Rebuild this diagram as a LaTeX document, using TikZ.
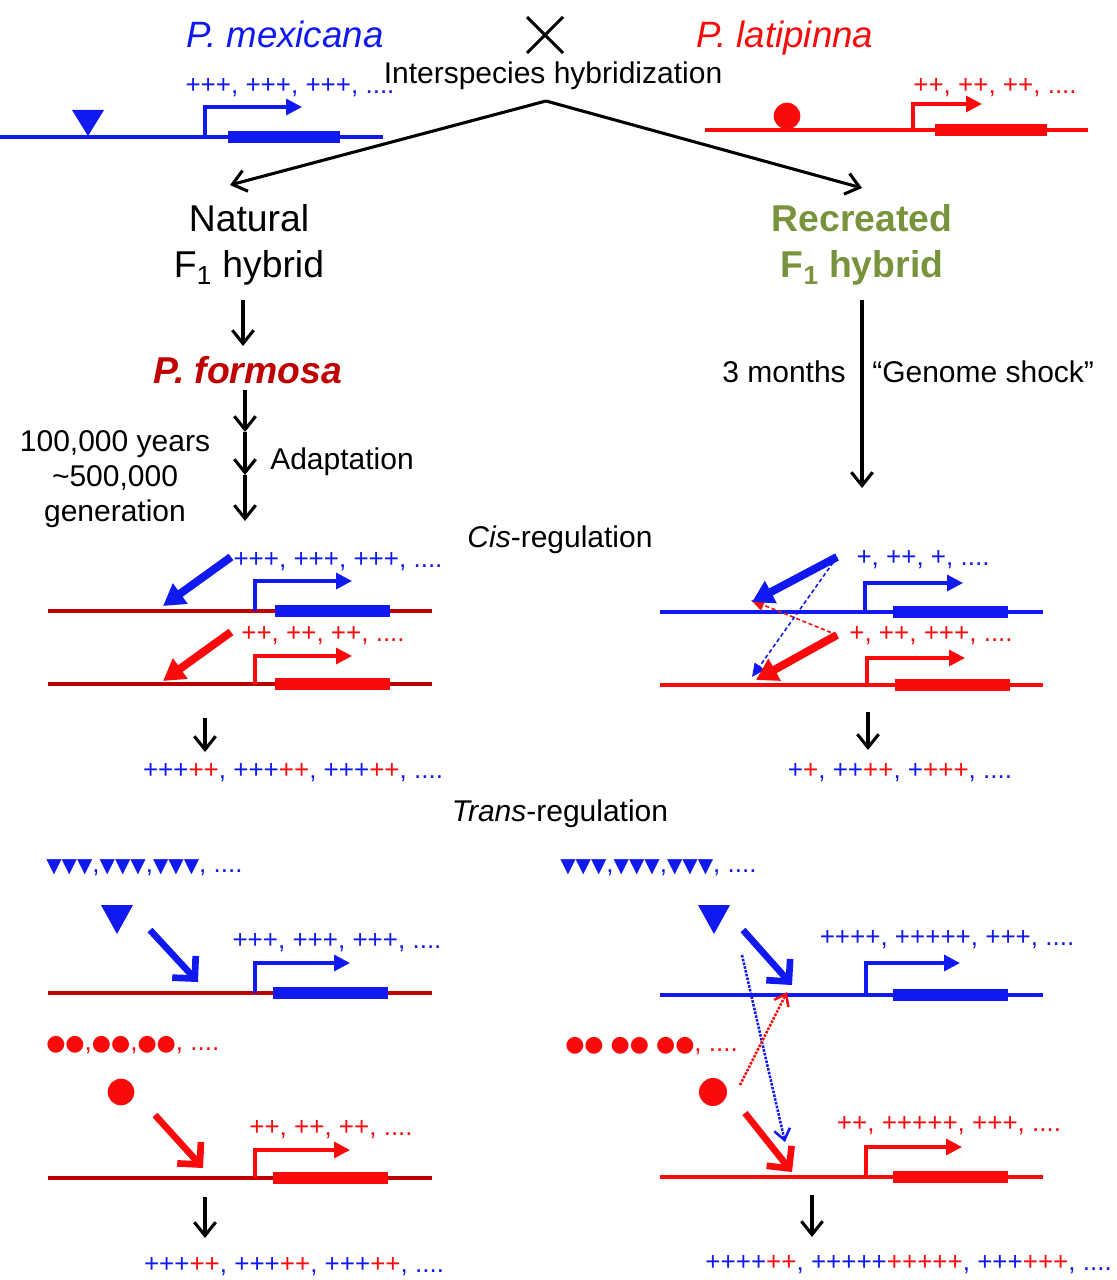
\documentclass[tikz,border=0pt]{standalone}
\usepackage{fontspec}
\setmainfont{Liberation Sans}
\newfontfamily\dvs{DejaVu Sans}
\usetikzlibrary{arrows.meta}
\definecolor{bl}{RGB}{15,25,240}
\definecolor{rd}{RGB}{250,10,10}
\definecolor{dr}{RGB}{192,0,0}
\definecolor{gr}{RGB}{119,147,60}
\newcommand\pbl[1]{\textcolor{bl}{#1}}
\newcommand\prd[1]{\textcolor{rd}{#1}}
\begin{document}
\begin{tikzpicture}[x=0.75pt,y=-0.75pt,
  lbl/.style={font=\fontsize{22.5}{26.25}\selectfont, inner sep=0pt},
  big/.style={font=\fontsize{28}{35}\selectfont, inner sep=0pt, align=center},
  pl/.style={font=\fontsize{19.5}{22}\selectfont, inner sep=0pt},
  chr/.style={line width=2.8pt},
  gbox/.style={line width=8.5pt},
  prom/.style={line width=2.5pt, miter limit=10, -{Triangle[length=12pt,width=12pt]}},
  blk/.style={line width=2.3pt, black, -{Straight Barb[length=10pt,width=16pt]}},
  cisar/.style={line width=6pt, -{Triangle[length=16pt,width=18pt]}},
  thinar/.style={line width=1.2pt, densely dashed, -{Triangle[length=10pt,width=9pt]}},
  trar/.style={line width=5pt, -{Straight Barb[length=12pt,width=24pt]}},
  dotar/.style={line width=1.9pt, densely dotted, -{Straight Barb[length=8pt,width=12pt]}}
]
\useasboundingbox (0,0) rectangle (1116,1280);

% ---------------- top ----------------
\node[font=\fontsize{27.5}{30}\selectfont\itshape, text=bl, inner sep=0pt, anchor=base] (mex) at (285,48) {P. mexicana};
\node[font=\fontsize{27.5}{30}\selectfont\itshape, text=rd, inner sep=0pt, anchor=base] (lat) at (785,48) {P. latipinna};
\coordinate (xc) at (545,35);
\draw[line width=2.3pt] (527,17) -- (563,53) (563,17) -- (527,53);
\node[lbl, anchor=base] (ihyb) at (553,84) {Interspecies hybridization};
\coordinate (split) at (546,101);

% P. mexicana gene
\draw[chr, bl] (0,137) -- (383,137);
\draw[gbox, bl] (228,137) -- (340,137);
\fill[bl] (72,110) -- (104,110) -- (88,136) -- cycle;
\draw[prom, bl] (205,137) -- (205,107) -- (302,107);
\node[pl, text=bl] (mexplus) at (290,88) {+++, +++, +++, ....};

% P. latipinna gene
\draw[chr, rd] (705,130) -- (1088,130);
\draw[gbox, rd] (935,130) -- (1047,130);
\fill[rd] (787,116) circle[radius=10pt];
\draw[prom, rd] (913,130) -- (913,104) -- (982,104);
\node[pl, text=rd] (latplus) at (995,88) {++, ++, ++, ....};

% hybrids
\node[big] (nat) at (249,245) {Natural\\F\textsubscript{1} hybrid};
\node[big, font=\fontsize{28}{35}\selectfont\bfseries, text=gr] (rec) at (862,245) {Recreated\\F\textsubscript{1} hybrid};
\coordinate (natin) at (230,185);
\coordinate (recin) at (862,188);
\draw[blk] (split) -- (natin);
\draw[blk] (split) -- (recin);

% left column
\node[font=\fontsize{28}{30}\selectfont\bfseries\itshape, text=dr, inner sep=0pt] (form) at (248,370) {P. formosa};
\coordinate (f0) at (243,300);
\coordinate (f1) at (243,346);
\draw[blk] (f0) -- (f1);
\coordinate (a0) at (245,390);
\coordinate (a1) at (245,432);
\coordinate (a2) at (245,475);
\coordinate (a3) at (245,521);
\draw[blk] (a0) -- (a1);
\draw[blk] (a1) -- (a2);
\draw[blk] (a2) -- (a3);
\node[lbl, align=center] (years) at (115,479) {100,000 years\\\textasciitilde500,000\\generation};
\node[lbl, anchor=west] (adapt) at (270,462) {Adaptation};

% right column
\coordinate (r0) at (862,300);
\coordinate (r1) at (862,488);
\draw[blk] (r0) -- (r1);
\node[lbl, anchor=east] (months) at (846,372) {3 months};
\node[lbl, anchor=west] (shock) at (872,372) {“Genome shock”};

% ---------------- cis ----------------
\node[lbl] (cis) at (560,540) {\textit{Cis}-regulation};

% cis left
\draw[chr, dr] (48,611) -- (432,611);
\draw[chr, dr] (48,684) -- (432,684);
\draw[gbox, bl] (275,611) -- (390,611);
\draw[gbox, rd] (275,684) -- (390,684);
\draw[prom, bl] (255,611) -- (255,581) -- (352,581);
\draw[prom, rd] (255,684) -- (255,656) -- (352,656);
\coordinate (cl1s) at (231,557); \coordinate (cl1e) at (163,606);
\coordinate (cl2s) at (231,632); \coordinate (cl2e) at (163,681);
\draw[cisar, bl] (cl1s) -- (cl1e);
\draw[cisar, rd] (cl2s) -- (cl2e);
\node[pl, text=bl] (cl1t) at (338,562) {+++, +++, +++, ....};
\node[pl, text=rd] (cl2t) at (323,636) {++, ++, ++, ....};
\coordinate (cld0) at (205,718); \coordinate (cld1) at (205,752);
\draw[blk] (cld0) -- (cld1);
\node[pl] (clres) at (293,773) {\pbl{+++}\prd{++}\pbl{, +++}\prd{++}\pbl{, +++}\prd{++}\pbl{, ....}};

% cis right
\draw[chr, bl] (660,612) -- (1043,612);
\draw[chr, rd] (660,685) -- (1043,685);
\draw[gbox, bl] (893,612) -- (1008,612);
\draw[gbox, rd] (895,685) -- (1010,685);
\draw[prom, bl] (865,612) -- (865,583) -- (963,583);
\draw[prom, rd] (867,685) -- (867,658) -- (965,658);
\coordinate (cr1s) at (837,557);
\coordinate (cr2s) at (837,635);
\coordinate (cr1e) at (752,602);
\coordinate (cr2e) at (756,680);
\coordinate (cr3e) at (751,600);
\coordinate (cr4e) at (752,677);
\draw[thinar, rd] (cr2s) -- (cr3e);
\draw[thinar, bl] (cr1s) -- (cr4e);
\draw[cisar, bl] (cr1s) -- (cr1e);
\draw[cisar, rd] (cr2s) -- (cr2e);
\node[pl, text=bl] (cr1t) at (923,560) {+, ++, +, ....};
\node[pl, text=rd] (cr2t) at (931,636) {+, ++, +++, ....};
\coordinate (crd0) at (868,712); \coordinate (crd1) at (868,750);
\draw[blk] (crd0) -- (crd1);
\node[pl] (crres) at (900,773) {\pbl{+}\prd{+}\pbl{, ++}\prd{++}\pbl{, +}\prd{+++}\pbl{, ....}};

% ---------------- trans ----------------
\node[lbl] (trans) at (560,814) {\textit{Trans}-regulation};

% trans left
\node[anchor=west, inner sep=0pt, text=bl] (tl1) at (46,868) {{\dvs\fontsize{15}{17}\selectfont ▼▼▼}{\fontsize{19.5}{22}\selectfont ,}{\dvs\fontsize{15}{17}\selectfont ▼▼▼}{\fontsize{19.5}{22}\selectfont ,}{\dvs\fontsize{15}{17}\selectfont ▼▼▼}{\fontsize{19.5}{22}\selectfont , ....}};
\fill[bl] (101,905) -- (133,905) -- (117,934) -- cycle;
\coordinate (tla0) at (150,930); \coordinate (tla1) at (198,982);
\draw[trar, bl] (tla0) -- (tla1);
\node[pl, text=bl] (tlt1) at (337,943) {+++, +++, +++, ....};
\draw[chr, dr] (48,993) -- (432,993);
\draw[gbox, bl] (273,993) -- (388,993);
\draw[prom, bl] (255,993) -- (255,963) -- (350,963);

\node[anchor=west, inner sep=0pt, text=rd] (tl2) at (46,1045) {{\dvs\fontsize{16.5}{17}\selectfont ●●}{\fontsize{19.5}{22}\selectfont ,}{\dvs\fontsize{16.5}{17}\selectfont ●●}{\fontsize{19.5}{22}\selectfont ,}{\dvs\fontsize{16.5}{17}\selectfont ●●}{\fontsize{19.5}{22}\selectfont , ....}};
\fill[rd] (121,1092) circle[radius=10pt];
\coordinate (tlb0) at (155,1115); \coordinate (tlb1) at (203,1168);
\draw[trar, rd] (tlb0) -- (tlb1);
\node[pl, text=rd] (tlt2) at (331,1130) {++, ++, ++, ....};
\draw[chr, dr] (48,1178) -- (432,1178);
\draw[gbox, rd] (273,1178) -- (388,1178);
\draw[prom, rd] (255,1178) -- (255,1150) -- (350,1150);
\coordinate (tld0) at (205,1197); \coordinate (tld1) at (205,1238);
\draw[blk] (tld0) -- (tld1);
\node[pl] (tlres) at (294,1267) {\pbl{+++}\prd{++}\pbl{, +++}\prd{++}\pbl{, +++}\prd{++}\pbl{, ....}};

% trans right
\node[anchor=west, inner sep=0pt, text=bl] (tr1) at (560,868) {{\dvs\fontsize{15}{17}\selectfont ▼▼▼}{\fontsize{19.5}{22}\selectfont ,}{\dvs\fontsize{15}{17}\selectfont ▼▼▼}{\fontsize{19.5}{22}\selectfont ,}{\dvs\fontsize{15}{17}\selectfont ▼▼▼}{\fontsize{19.5}{22}\selectfont , ....}};
\fill[bl] (698,905) -- (730,905) -- (714,934) -- cycle;
\coordinate (tra0) at (743,930); \coordinate (tra1) at (792,985);
\coordinate (trd0) at (742,955); \coordinate (trd1) at (785,1142);
\draw[dotar, bl] (trd0) -- (trd1);
\draw[trar, bl] (tra0) -- (tra1);
\node[pl, text=bl] (trt1) at (947,940) {++++, +++++, +++, ....};
\draw[chr, bl] (660,995) -- (1043,995);
\draw[gbox, bl] (893,995) -- (1008,995);
\draw[prom, bl] (866,995) -- (866,963) -- (960,963);

\node[anchor=west, inner sep=0pt, text=rd] (tr2) at (565,1046) {{\dvs\fontsize{16.5}{17}\selectfont ●● ●● ●●}{\fontsize{19.5}{22}\selectfont , ....}};
\fill[rd] (713,1092) circle[radius=10.5pt];
\coordinate (trb0) at (745,1113); \coordinate (trb1) at (792,1172);
\coordinate (tre0) at (740,1085); \coordinate (tre1) at (787,992);
\draw[dotar, rd] (tre0) -- (tre1);
\draw[trar, rd] (trb0) -- (trb1);
\node[pl, text=rd] (trt2) at (949,1126) {++, +++++, +++, ....};
\draw[chr, rd] (660,1177) -- (1043,1177);
\draw[gbox, rd] (893,1177) -- (1008,1177);
\draw[prom, rd] (866,1177) -- (866,1147) -- (962,1147);
\coordinate (trf0) at (812,1195); \coordinate (trf1) at (812,1237);
\draw[blk] (trf0) -- (trf1);
\node[pl, anchor=east] (trres) at (1112,1265) {\pbl{++++}\prd{++}\pbl{, +++++}\prd{+++++}\pbl{, +++}\prd{+++}\pbl{, ....}};
\end{tikzpicture}
\end{document}
